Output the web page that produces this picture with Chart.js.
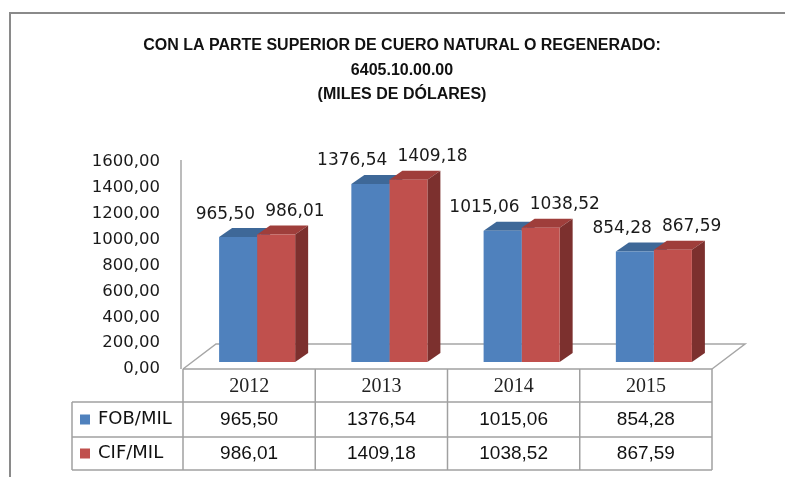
<!DOCTYPE html>
<html lang="es">
<head>
<meta charset="utf-8">
<title>6405.10.00.00</title>
<script src="https://cdn.jsdelivr.net/npm/chart.js@4.4.1/dist/chart.umd.min.js"></script>
<style>
  html, body { margin: 0; padding: 0; background: #fff; }
  canvas { display: block; }
</style>
</head>
<body>
<canvas id="chart" width="785" height="477"></canvas>
<script>
const years = ["2012", "2013", "2014", "2015"];
const fobMil = [965.50, 1376.54, 1015.06, 854.28];
const cifMil = [986.01, 1409.18, 1038.52, 867.59];
const seriesNames = ["FOB/MIL", "CIF/MIL"];
const titleLines = [
    "CON LA PARTE SUPERIOR DE CUERO NATURAL O REGENERADO:",
    "6405.10.00.00",
    "(MILES DE DÓLARES)"
];
const yMin = 0, yMax = 1600, yStep = 200;

// front / top / side shades of each series
const colors = {
    front: ["#4f81bd", "#c0504d"],
    top:   ["#3e6898", "#9f3e3b"],
    side:  ["#35598a", "#7c302e"]
};

const DEPTH = { x: 13, y: -9 };   // bar thickness
const FLOOR = { x: 33, y: -25 };  // floor depth
const SHIFT = { x: 8, y: -7 };    // bars sit a bit back on the floor
const TABLE = { left: 72, rows: [33, 35, 33] };

const fmt = v => v.toFixed(2).replace(".", ",");

function line(ctx, x1, y1, x2, y2) {
    ctx.beginPath();
    ctx.moveTo(x1, y1);
    ctx.lineTo(x2, y2);
    ctx.stroke();
}

const excel3d = {
    id: "excel3d",
    beforeDraw(chart) {
        const { ctx, chartArea: a } = chart;
        ctx.save();
        // outer chart border
        ctx.strokeStyle = "#8a8a8a";
        ctx.lineWidth = 2;
        ctx.strokeRect(10, 13, 900, 600);

        // title
        ctx.fillStyle = "#111";
        ctx.font = "bold 16px 'Liberation Sans', Arial, sans-serif";
        ctx.textAlign = "center";
        ctx.textBaseline = "middle";
        titleLines.forEach((t, i) => ctx.fillText(t, 402, 46 + i * 24.5));

        // value axis line and floor outline
        ctx.strokeStyle = "#a6a6a6";
        ctx.lineWidth = 1.5;
        line(ctx, a.left - 2, a.top - 2, a.left - 2, a.bottom);
        ctx.beginPath();
        ctx.moveTo(a.left, a.bottom);
        ctx.lineTo(a.left + FLOOR.x, a.bottom + FLOOR.y);
        ctx.lineTo(a.right + FLOOR.x, a.bottom + FLOOR.y);
        ctx.lineTo(a.right, a.bottom);
        ctx.stroke();
        ctx.restore();
    },
    beforeDatasetsDraw(chart) {
        const ctx = chart.ctx;
        ctx.save();
        ctx.translate(SHIFT.x, SHIFT.y);
        // top and side faces go first, the fronts are drawn over them
        chart.data.datasets.forEach((ds, di) => {
            chart.getDatasetMeta(di).data.forEach(bar => {
                const { x, y, base, width } = bar.getProps(["x", "y", "base", "width"], true);
                const l = x - width / 2, r = x + width / 2;
                ctx.fillStyle = colors.top[di];
                ctx.beginPath();
                ctx.moveTo(l, y);
                ctx.lineTo(r, y);
                ctx.lineTo(r + DEPTH.x, y + DEPTH.y);
                ctx.lineTo(l + DEPTH.x, y + DEPTH.y);
                ctx.closePath();
                ctx.fill();
                ctx.fillStyle = colors.side[di];
                ctx.beginPath();
                ctx.moveTo(r, y);
                ctx.lineTo(r + DEPTH.x, y + DEPTH.y);
                ctx.lineTo(r + DEPTH.x, base + DEPTH.y);
                ctx.lineTo(r, base);
                ctx.closePath();
                ctx.fill();
            });
        });
    },
    afterDatasetsDraw(chart) {
        const ctx = chart.ctx;
        ctx.fillStyle = "#1a1a1a";
        ctx.font = "17px 'DejaVu Sans', Verdana, sans-serif";
        ctx.textBaseline = "middle";
        chart.data.datasets.forEach((ds, di) => {
            chart.getDatasetMeta(di).data.forEach((bar, i) => {
                const { x, y, width } = bar.getProps(["x", "y", "width"], true);
                const ly = y + DEPTH.y - 14;
                if (di === 0) {
                    ctx.textAlign = "right";
                    ctx.fillText(fmt(ds.data[i]), x + width / 2 - 2, ly);
                } else {
                    ctx.textAlign = "left";
                    ctx.fillText(fmt(ds.data[i]), x - width / 2 + 8, ly);
                }
            });
        });
        ctx.restore();
    },
    afterDraw(chart) {
        const { ctx, chartArea: a } = chart;
        const xs = chart.scales.x;
        const colW = (a.right - a.left) / years.length;
        const ys = [a.bottom];
        TABLE.rows.forEach(h => ys.push(ys[ys.length - 1] + h));

        ctx.save();
        ctx.strokeStyle = "#a0a0a0";
        ctx.lineWidth = 1.5;
        line(ctx, a.left, ys[0], a.right, ys[0]);
        for (let r = 1; r < ys.length; r++) line(ctx, TABLE.left, ys[r], a.right, ys[r]);
        line(ctx, TABLE.left, ys[1], TABLE.left, ys[3]);
        for (let i = 0; i <= years.length; i++) {
            line(ctx, a.left + i * colW, ys[0], a.left + i * colW, ys[3]);
        }

        ctx.textAlign = "center";
        ctx.textBaseline = "middle";
        ctx.fillStyle = "#222";
        ctx.font = "20px 'Liberation Serif', 'Times New Roman', serif";
        chart.data.labels.forEach((lab, i) => {
            ctx.fillText(lab, xs.getPixelForValue(i), (ys[0] + ys[1]) / 2 + 1);
        });

        chart.data.datasets.forEach((ds, di) => {
            const cy = (ys[di + 1] + ys[di + 2]) / 2;
            ctx.fillStyle = "#111";
            ctx.font = "19px 'Liberation Sans', Arial, sans-serif";
            ctx.textAlign = "center";
            ds.data.forEach((v, i) => ctx.fillText(fmt(v), xs.getPixelForValue(i), cy));

            ctx.fillStyle = colors.front[di];
            ctx.fillRect(TABLE.left + 8, cy - 5, 10, 10);
            ctx.fillStyle = "#111";
            ctx.font = "18px 'DejaVu Sans', Verdana, sans-serif";
            ctx.textAlign = "left";
            ctx.fillText(ds.label, TABLE.left + 26, cy);
        });
        ctx.restore();
    }
};

new Chart(document.getElementById("chart"), {
    type: "bar",
    data: {
        labels: years,
        datasets: [
            { label: seriesNames[0], data: fobMil, backgroundColor: colors.front[0] },
            { label: seriesNames[1], data: cifMil, backgroundColor: colors.front[1] }
        ]
    },
    options: {
        responsive: false,
        animation: false,
        devicePixelRatio: 1,
        layout: { padding: { top: 162, bottom: 108, left: 0, right: 73 } },
        datasets: { bar: { barPercentage: 1, categoryPercentage: 0.575, borderWidth: 0 } },
        plugins: { legend: { display: false }, tooltip: { enabled: false }, title: { display: false } },
        scales: {
            x: { display: false },
            y: {
                min: yMin,
                max: yMax,
                ticks: {
                    stepSize: yStep,
                    padding: 23,
                    color: "#1a1a1a",
                    font: { family: "'DejaVu Sans', Verdana, sans-serif", size: 16.5 },
                    callback: v => fmt(v)
                },
                grid: { display: false, drawTicks: false },
                border: { display: false },
                afterFit(scale) { scale.width = 183; }
            }
        }
    },
    plugins: [excel3d]
});
</script>
</body>
</html>
